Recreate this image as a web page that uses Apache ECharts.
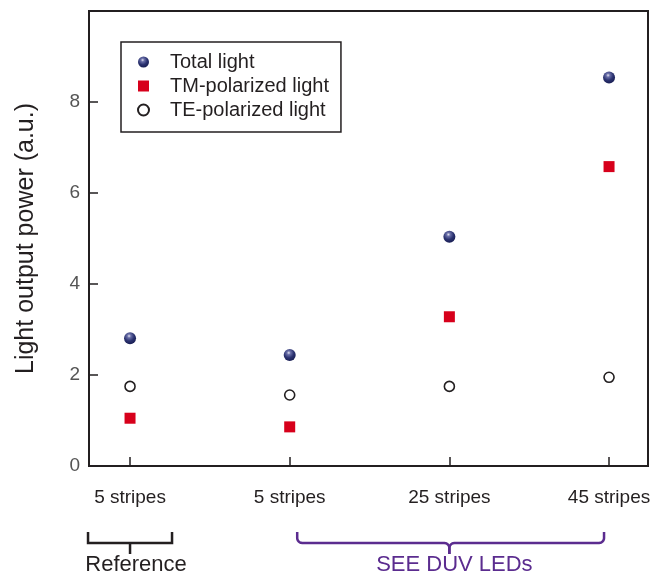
<!DOCTYPE html>
<html>
<head>
<meta charset="utf-8">
<script src="https://cdn.jsdelivr.net/npm/echarts@6/dist/echarts.min.js"></script>
<style>html,body{margin:0;padding:0;background:#fff}#c{width:650px;height:575px}</style>
</head>
<body>
<div id="c"></div>
<script>
// ---- data ----
const categories = ['5 stripes', '5 stripes', '25 stripes', '45 stripes'];
const totalLight = [2.81, 2.44, 5.04, 8.54];
const tmLight = [1.05, 0.86, 3.28, 6.58];
const teLight = [1.75, 1.56, 1.75, 1.95];
const yTicks = [0, 2, 4, 6, 8];
const groupLabels = ['Reference', 'SEE DUV LEDs'];

const FONT = "'Liberation Sans', Arial, Helvetica, sans-serif";
const DARK = '#231f20';
const PURPLE = '#5b2c8f';

const toPts = arr => arr.map((v, i) => [i, v]);

const sphere = {
  type: 'radial', x: 0.42, y: 0.32, r: 0.7,
  colorStops: [
    { offset: 0, color: '#e4e4f2' },
    { offset: 0.22, color: '#6a6fa8' },
    { offset: 0.6, color: '#2b3270' },
    { offset: 1, color: '#181d52' }
  ]
};

const chart = echarts.init(document.getElementById('c'), null, { renderer: 'canvas' });

const option = {
  animation: false,
  backgroundColor: '#fff',
  textStyle: { fontFamily: FONT },
  grid: {
    left: 89, right: 2, top: 11, bottom: 109,
    outerBoundsMode: 'none', containLabel: false,
    show: true, borderColor: DARK, borderWidth: 2, backgroundColor: 'transparent'
  },
  legend: {
    orient: 'vertical',
    left: 121, top: 42,
    padding: [10, 12, 12, 16],
    borderColor: DARK, borderWidth: 1.5,
    itemWidth: 11, itemHeight: 11, itemGap: 4,
    textStyle: { fontFamily: FONT, fontSize: 20, color: DARK, lineHeight: 20, padding: [0, 0, 0, 16] },
    data: [
      { name: 'Total light', itemStyle: { color: sphere } },
      { name: 'TM-polarized light', icon: 'rect' },
      { name: 'TE-polarized light' }
    ]
  },
  xAxis: {
    type: 'value',
    min: -0.257, max: 3.244,
    axisLine: { show: true, onZero: false, lineStyle: { color: DARK, width: 2 } },
    axisTick: { show: true, inside: true, length: 9, customValues: [0, 1, 2, 3], lineStyle: { color: DARK, width: 1.5 } },
    axisLabel: {
      customValues: [0, 1, 2, 3],
      formatter: v => categories[Math.round(v)],
      fontFamily: FONT, fontSize: 19, color: DARK, margin: 22
    },
    splitLine: { show: false }
  },
  yAxis: {
    type: 'value',
    min: 0, max: 10, interval: 2,
    name: 'Light output power (a.u.)',
    nameLocation: 'middle',
    nameGap: 50,
    nameTextStyle: { fontFamily: FONT, fontSize: 25, color: DARK },
    axisLine: { show: true, onZero: false, lineStyle: { color: DARK, width: 2 } },
    axisTick: { show: true, inside: true, length: 9, lineStyle: { color: DARK, width: 1.5 } },
    axisLabel: {
      formatter: v => (yTicks.indexOf(v) >= 0 ? String(v) : ''),
      fontFamily: FONT, fontSize: 19, color: '#555', margin: 9
    },
    splitLine: { show: false }
  },
  series: [
    {
      name: 'Total light', type: 'scatter', symbol: 'circle', symbolSize: 12,
      itemStyle: { color: sphere, opacity: 1 },
      data: toPts(totalLight), z: 5
    },
    {
      name: 'TM-polarized light', type: 'scatter', symbol: 'rect', symbolSize: 11,
      itemStyle: { color: '#d7001b', opacity: 1 },
      data: toPts(tmLight), z: 4
    },
    {
      name: 'TE-polarized light', type: 'scatter', symbol: 'circle', symbolSize: 10,
      itemStyle: { color: '#fff', borderColor: DARK, borderWidth: 1.6, opacity: 1 },
      data: toPts(teLight), z: 3
    }
  ]
};
chart.setOption(option);

// bracket annotations below the axis, anchored to the category positions
const px = i => chart.convertToPixel({ xAxisIndex: 0 }, i);
const x0 = px(0), x1 = px(1), x2 = px(2), x3 = px(3);
const yTop = 532, yBar = 543, yStem = 554, r = 5;
const refL = x0 - 42, refR = x0 + 42;
const seeL = x1 + 7.5, seeR = x3 - 5;

// quarter-arc helper: points from angle a0 to a1 around centre (cx, cy)
function arc(cx, cy, rad, a0, a1) {
  const pts = [];
  const n = 6;
  for (let k = 0; k <= n; k++) {
    const a = a0 + (a1 - a0) * k / n;
    pts.push([cx + rad * Math.cos(a), cy + rad * Math.sin(a)]);
  }
  return pts;
}
const PI = Math.PI;
const leftHalf = [[seeL, yTop]]
  .concat(arc(seeL + r, yBar - r, r, PI, PI / 2))
  .concat(arc(x2 - r, yBar + r, r, -PI / 2, 0))
  .concat([[x2, yStem]]);
const rightHalf = [[seeR, yTop]]
  .concat(arc(seeR - r, yBar - r, r, 0, PI / 2))
  .concat(arc(x2 + r, yBar + r, r, -PI / 2, -PI))
  .concat([[x2, yStem]]);

chart.setOption({
  graphic: [
    {
      type: 'polyline', silent: true,
      shape: { points: [[refL, yTop], [refL, yBar], [refR, yBar], [refR, yTop]] },
      style: { stroke: DARK, lineWidth: 2.5, fill: null }
    },
    {
      type: 'line', silent: true,
      shape: { x1: x0, y1: yBar, x2: x0, y2: yStem },
      style: { stroke: DARK, lineWidth: 2.5 }
    },
    {
      type: 'polyline', silent: true,
      shape: { points: leftHalf },
      style: { stroke: PURPLE, lineWidth: 2.5, fill: null, lineJoin: 'round' }
    },
    {
      type: 'polyline', silent: true,
      shape: { points: rightHalf },
      style: { stroke: PURPLE, lineWidth: 2.5, fill: null, lineJoin: 'round' }
    },
    {
      type: 'text', silent: true,
      x: x0 + 6, y: 565,
      style: { text: groupLabels[0], font: `22px ${FONT}`, fill: DARK, align: 'center', verticalAlign: 'middle' }
    },
    {
      type: 'text', silent: true,
      x: x2 + 5, y: 565,
      style: { text: groupLabels[1], font: `22px ${FONT}`, fill: PURPLE, align: 'center', verticalAlign: 'middle' }
    }
  ]
});
</script>
</body>
</html>
